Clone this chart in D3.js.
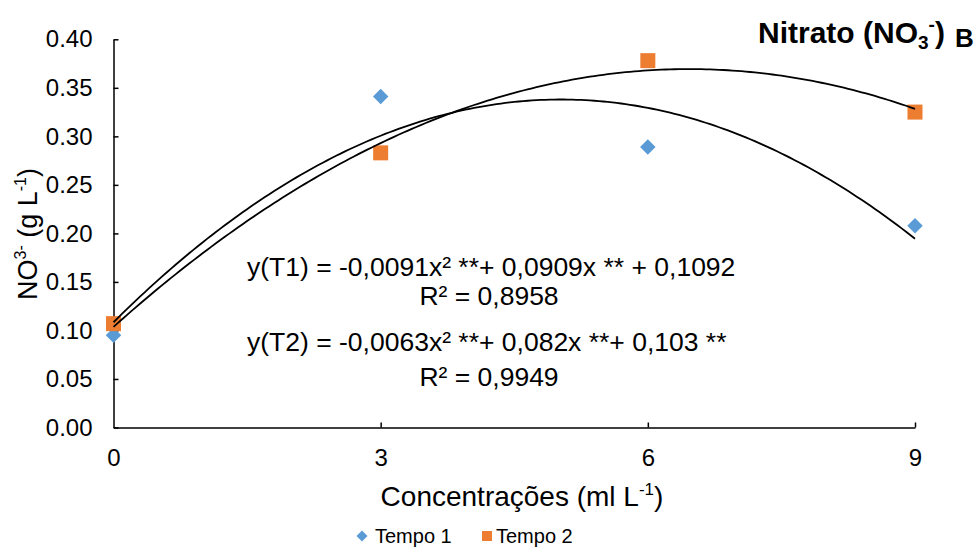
<!DOCTYPE html>
<html><head><meta charset="utf-8">
<script src="https://cdn.jsdelivr.net/npm/d3@7"></script>
<style>
body{margin:0;background:#fff}
text{font-family:"Liberation Sans",Arial,sans-serif;fill:#000}
</style>
</head><body>
<svg id="c" width="975" height="548"></svg>
<script>
// ---- data ----
const concentrations = [0, 3, 6, 9];
const tempo1 = [0.095, 0.341, 0.289, 0.208];
const tempo2 = [0.107, 0.283, 0.378, 0.325];
const seriesNames = ["Tempo 1", "Tempo 2"];
const yTickValues = [0, 0.05, 0.10, 0.15, 0.20, 0.25, 0.30, 0.35, 0.40];
const xTickValues = [0, 3, 6, 9];
const eqT1 = "y(T1) = -0,0091x² **+ 0,0909x ** + 0,1092";
const r2T1 = "R² = 0,8958";
const eqT2 = "y(T2) = -0,0063x² **+ 0,082x **+ 0,103 **";
const r2T2 = "R² = 0,9949";

const colors = ["#5B9BD5", "#ED7D31"];
const svg = d3.select("#c");
const x = d3.scaleLinear().domain([0, 9]).range([113.5, 915]);
const y = d3.scaleLinear().domain([0, 0.4]).range([427.5, 39.3]);

// least squares quadratic fit (trendline)
function quadFit(xs, ys) {
  let S = Array.from({length: 5}, () => 0), T = [0, 0, 0];
  xs.forEach((xi, i) => {
    for (let k = 0; k <= 4; k++) S[k] += Math.pow(xi, k);
    for (let k = 0; k <= 2; k++) T[k] += ys[i] * Math.pow(xi, k);
  });
  const A = [[S[0], S[1], S[2], T[0]], [S[1], S[2], S[3], T[1]], [S[2], S[3], S[4], T[2]]];
  for (let i = 0; i < 3; i++) {
    for (let j = i + 1; j < 3; j++) {
      const f = A[j][i] / A[i][i];
      for (let k = i; k < 4; k++) A[j][k] -= f * A[i][k];
    }
  }
  const c = [0, 0, 0];
  for (let i = 2; i >= 0; i--) {
    let s = A[i][3];
    for (let k = i + 1; k < 3; k++) s -= A[i][k] * c[k];
    c[i] = s / A[i][i];
  }
  return c;
}

// axes
const yAxis = d3.axisLeft(y).tickValues(yTickValues).tickSizeInner(-5).tickSizeOuter(0)
  .tickPadding(21).tickFormat(d3.format(".2f"));
const gy = svg.append("g").attr("transform", `translate(${x(0)},0)`).call(yAxis);
const xAxis = d3.axisBottom(x).tickValues(xTickValues).tickSizeInner(-5).tickSizeOuter(0)
  .tickPadding(21).tickFormat(d3.format("d"));
const gx = svg.append("g").attr("transform", `translate(0,${y(0)})`).call(xAxis);
[gy, gx].forEach(g => {
  g.select(".domain").attr("stroke", "#000").attr("stroke-width", 1.5);
  g.selectAll(".tick line").attr("stroke", "#000").attr("stroke-width", 1.5);
  g.selectAll(".tick text").style("font-size", "24px").style("font-family", "'Liberation Sans',Arial,sans-serif").attr("fill", "#000");
});
gx.selectAll(".tick").filter(d => d === 0).select("line").remove();

// markers
svg.append("g").selectAll("path").data(concentrations).join("path")
  .attr("d", d3.symbol().type(d3.symbolSquare).size(120))
  .attr("transform", (d, i) => `translate(${x(d)},${y(tempo1[i])}) rotate(45)`)
  .attr("fill", colors[0]);
svg.append("g").selectAll("rect").data(concentrations).join("rect")
  .attr("x", d => x(d) - 7.5).attr("width", 15).attr("height", 15)
  .attr("y", (d, i) => y(tempo2[i]) - 7.5)
  .attr("fill", colors[1]);

// trendlines
[tempo1, tempo2].forEach(ys => {
  const c = quadFit(concentrations, ys);
  const pts = d3.range(0, 9.0001, 0.05).map(v => [v, c[0] + c[1] * v + c[2] * v * v]);
  svg.append("path").datum(pts)
    .attr("d", d3.line().x(d => x(d[0])).y(d => y(d[1])))
    .attr("fill", "none").attr("stroke", "#000").attr("stroke-width", 1.8);
});

// equations
const eqG = svg.append("g").style("font-size", "26.5px");
eqG.append("text").attr("x", 247).attr("y", 276).text(eqT1);
eqG.append("text").attr("x", 489).attr("y", 305).attr("text-anchor", "middle").text(r2T1);
eqG.append("text").attr("x", 247).attr("y", 351).text(eqT2);
eqG.append("text").attr("x", 489).attr("y", 386).attr("text-anchor", "middle").text(r2T2);

// axis titles
const xt = svg.append("text").attr("x", 522).attr("y", 506).attr("text-anchor", "middle").style("font-size", "28px");
xt.append("tspan").text("Concentrações (ml L");
xt.append("tspan").attr("dy", -11).style("font-size", "17px").text("-1");
xt.append("tspan").attr("dy", 11).text(")");

const yt = svg.append("text").attr("transform", "translate(37,234) rotate(-90)").attr("text-anchor", "middle").style("font-size", "27px");
yt.append("tspan").text("NO");
yt.append("tspan").attr("dy", -11).style("font-size", "16px").text("3-");
yt.append("tspan").attr("dy", 11).text(" (g L");
yt.append("tspan").attr("dy", -11).style("font-size", "16px").text("-1");
yt.append("tspan").attr("dy", 11).text(")");

// title
const tt = svg.append("text").attr("x", 758).attr("y", 43).style("font-size", "30px").style("font-weight", "bold");
tt.append("tspan").text("Nitrato (NO");
tt.append("tspan").attr("dy", 6).style("font-size", "19px").text("3");
tt.append("tspan").attr("dy", -18).style("font-size", "19px").text("-");
tt.append("tspan").attr("dy", 12).text(")");
svg.append("text").attr("x", 955).attr("y", 47).style("font-size", "26px").style("font-weight", "bold").text("B");

// legend
const lg = svg.append("g").style("font-size", "20px");
lg.append("path").attr("d", d3.symbol().type(d3.symbolSquare).size(60)).attr("transform", "translate(362,536) rotate(45)").attr("fill", colors[0]);
lg.append("text").attr("x", 375).attr("y", 543).text(seriesNames[0]);
lg.append("rect").attr("x", 482).attr("y", 531).attr("width", 10).attr("height", 10).attr("fill", colors[1]);
lg.append("text").attr("x", 496).attr("y", 543).text(seriesNames[1]);
</script>
</body></html>
